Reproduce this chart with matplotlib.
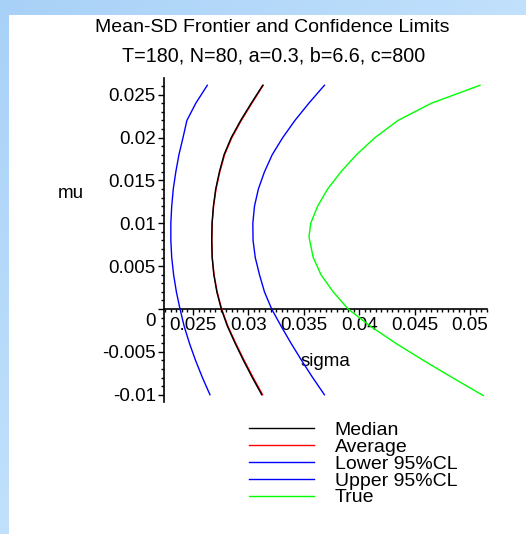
import numpy as np
import matplotlib
matplotlib.use("Agg")
import matplotlib.pyplot as plt
from matplotlib.ticker import MultipleLocator, FuncFormatter
from matplotlib.transforms import ScaledTranslation
from matplotlib.patches import Rectangle

plt.rcParams['font.family'] = ['Liberation Sans', 'DejaVu Sans']
plt.rcParams['axes.unicode_minus'] = False

# ---- data ----
mu = [-0.01, -0.008, -0.006, -0.004, -0.002, 0.0, 0.002, 0.004, 0.006, 0.008,
      0.010, 0.012, 0.014, 0.016, 0.018, 0.020, 0.022, 0.024, 0.0261]
sigma_lower = [0.02653, 0.02585, 0.02523, 0.02468, 0.02420, 0.02383, 0.02350,
               0.02325, 0.02308, 0.02300, 0.02300, 0.02308, 0.02322, 0.02345,
               0.02373, 0.02410, 0.02445, 0.02525, 0.02629]
sigma_median = [0.03120, 0.03035, 0.02955, 0.02880, 0.02810, 0.02755, 0.02715,
                0.02688, 0.02673, 0.02669, 0.02672, 0.02684, 0.02705, 0.02738,
                0.02780, 0.02845, 0.02930, 0.03025, 0.03129]
sigma_average = [0.03128, 0.03043, 0.02962, 0.02886, 0.02815, 0.02759, 0.02718,
                 0.02690, 0.02674, 0.02670, 0.02673, 0.02686, 0.02708, 0.02742,
                 0.02785, 0.02851, 0.02936, 0.03031, 0.03134]
sigma_upper = [0.03686, 0.03580, 0.03480, 0.03385, 0.03295, 0.03210, 0.03145,
               0.03100, 0.03062, 0.03042, 0.03040, 0.03055, 0.03090, 0.03145,
               0.03215, 0.03310, 0.03420, 0.03545, 0.03686]
mu_true = [-0.0101, -0.008, -0.006, -0.004, -0.002, 0.0, 0.002, 0.004, 0.006,
           0.0084, 0.010, 0.012, 0.014, 0.016, 0.018, 0.020, 0.022, 0.024,
           0.0261]
sigma_true = [0.0512, 0.0484, 0.0458, 0.0433, 0.0410, 0.0390, 0.03765, 0.03655,
              0.03585, 0.03547, 0.03562, 0.03625, 0.03715, 0.03835, 0.03975,
              0.04143, 0.0435, 0.0465, 0.0509]

legend_labels = ["Median", "Average", "Lower 95%CL", "Upper 95%CL", "True"]
title1 = "Mean-SD Frontier and Confidence Limits"
title2 = "T=180, N=80, a=0.3, b=6.6, c=800"

W, H = 526, 534
fig = plt.figure(figsize=(W / 100, H / 100), dpi=100)

# slide background gradient
bg = fig.add_axes([0, 0, 1, 1], zorder=-10)
gx, gy = np.meshgrid(np.linspace(0, 1, 200), np.linspace(0, 1, 200))
t = np.clip(0.6 * gx + 0.6 * gy, 0, 1)[..., None]
c0 = np.array([0.66, 0.82, 0.97])
c1 = np.array([0.82, 0.92, 1.0])
bg.imshow(c0 * (1 - t) + c1 * t, extent=[0, 1, 0, 1], aspect='auto',
          origin='upper')
bg.add_patch(Rectangle((9 / W, 0), 1, 1 - 15 / H, facecolor='white',
                       edgecolor='none'))
bg.set_xlim(0, 1)
bg.set_ylim(0, 1)
bg.axis('off')

ax = fig.add_axes([164 / W, 1 - 402 / H, (487 - 164) / W, (402 - 78) / H])
ax.patch.set_alpha(0)

lw = 1.0
h_avg, = ax.plot(sigma_average, mu, color='#FF0000', lw=lw, zorder=3)
h_med, = ax.plot(sigma_median, mu, color='black', lw=lw, zorder=4)
h_low, = ax.plot(sigma_lower, mu, color='#0000FF', lw=lw, zorder=3)
h_up, = ax.plot(sigma_upper, mu, color='#0000FF', lw=lw, zorder=3)
h_true, = ax.plot(sigma_true, mu_true, color='#00FF00', lw=lw, zorder=3)

ax.set_xlim(0.022383, 0.051534)
ax.set_ylim(-0.01085, 0.02695)

for s in ['top', 'right']:
    ax.spines[s].set_visible(False)
ax.spines['bottom'].set_position(('data', 0))
ax.spines['left'].set_linewidth(1.2)
ax.spines['bottom'].set_linewidth(1.2)

fs = 13.5
ax.xaxis.set_major_locator(MultipleLocator(0.005))
ax.xaxis.set_minor_locator(MultipleLocator(0.0005))
ax.yaxis.set_major_locator(MultipleLocator(0.005))
ax.yaxis.set_minor_locator(MultipleLocator(0.001))
fmt = FuncFormatter(lambda v, p: ("%g" % round(v, 6)))
ax.xaxis.set_major_formatter(fmt)
ax.yaxis.set_major_formatter(fmt)
ax.set_xticks([0.025, 0.03, 0.035, 0.04, 0.045, 0.05])
ax.tick_params(axis='both', which='major', length=4, width=1, labelsize=fs,
               direction='out', pad=2)
ax.tick_params(axis='both', which='minor', length=2.5, width=1,
               direction='out')

fig.canvas.draw()
for lab in ax.get_yticklabels():
    if lab.get_text() == "0":
        lab.set_transform(lab.get_transform() +
                          ScaledTranslation(0, -10 / 100, fig.dpi_scale_trans))

ax.set_ylabel("mu", rotation=0, fontsize=fs, ha='center', va='center')
ax.yaxis.set_label_coords((71 - 164) / 323, (402 - 194) / 324)
ax.set_xlabel("sigma", fontsize=fs, ha='center', va='center')
ax.xaxis.set_label_coords((325 - 164) / 323, (402 - 362) / 324)

fig.text(272 / W, 1 - 27 / H, title1, fontsize=14, ha='center', va='center')
fig.text(274 / W, 1 - 55.5 / H, title2, fontsize=14.2, ha='center',
         va='center')

leg = fig.legend([h_med, h_avg, h_low, h_up, h_true], legend_labels,
                 loc='upper left', bbox_to_anchor=(249 / W, 1 - 421.5 / H),
                 frameon=False, fontsize=14, handlelength=3.35,
                 handletextpad=1.05, labelspacing=-0.04, borderpad=0,
                 borderaxespad=0)

fig.savefig("out.png", dpi=100)
